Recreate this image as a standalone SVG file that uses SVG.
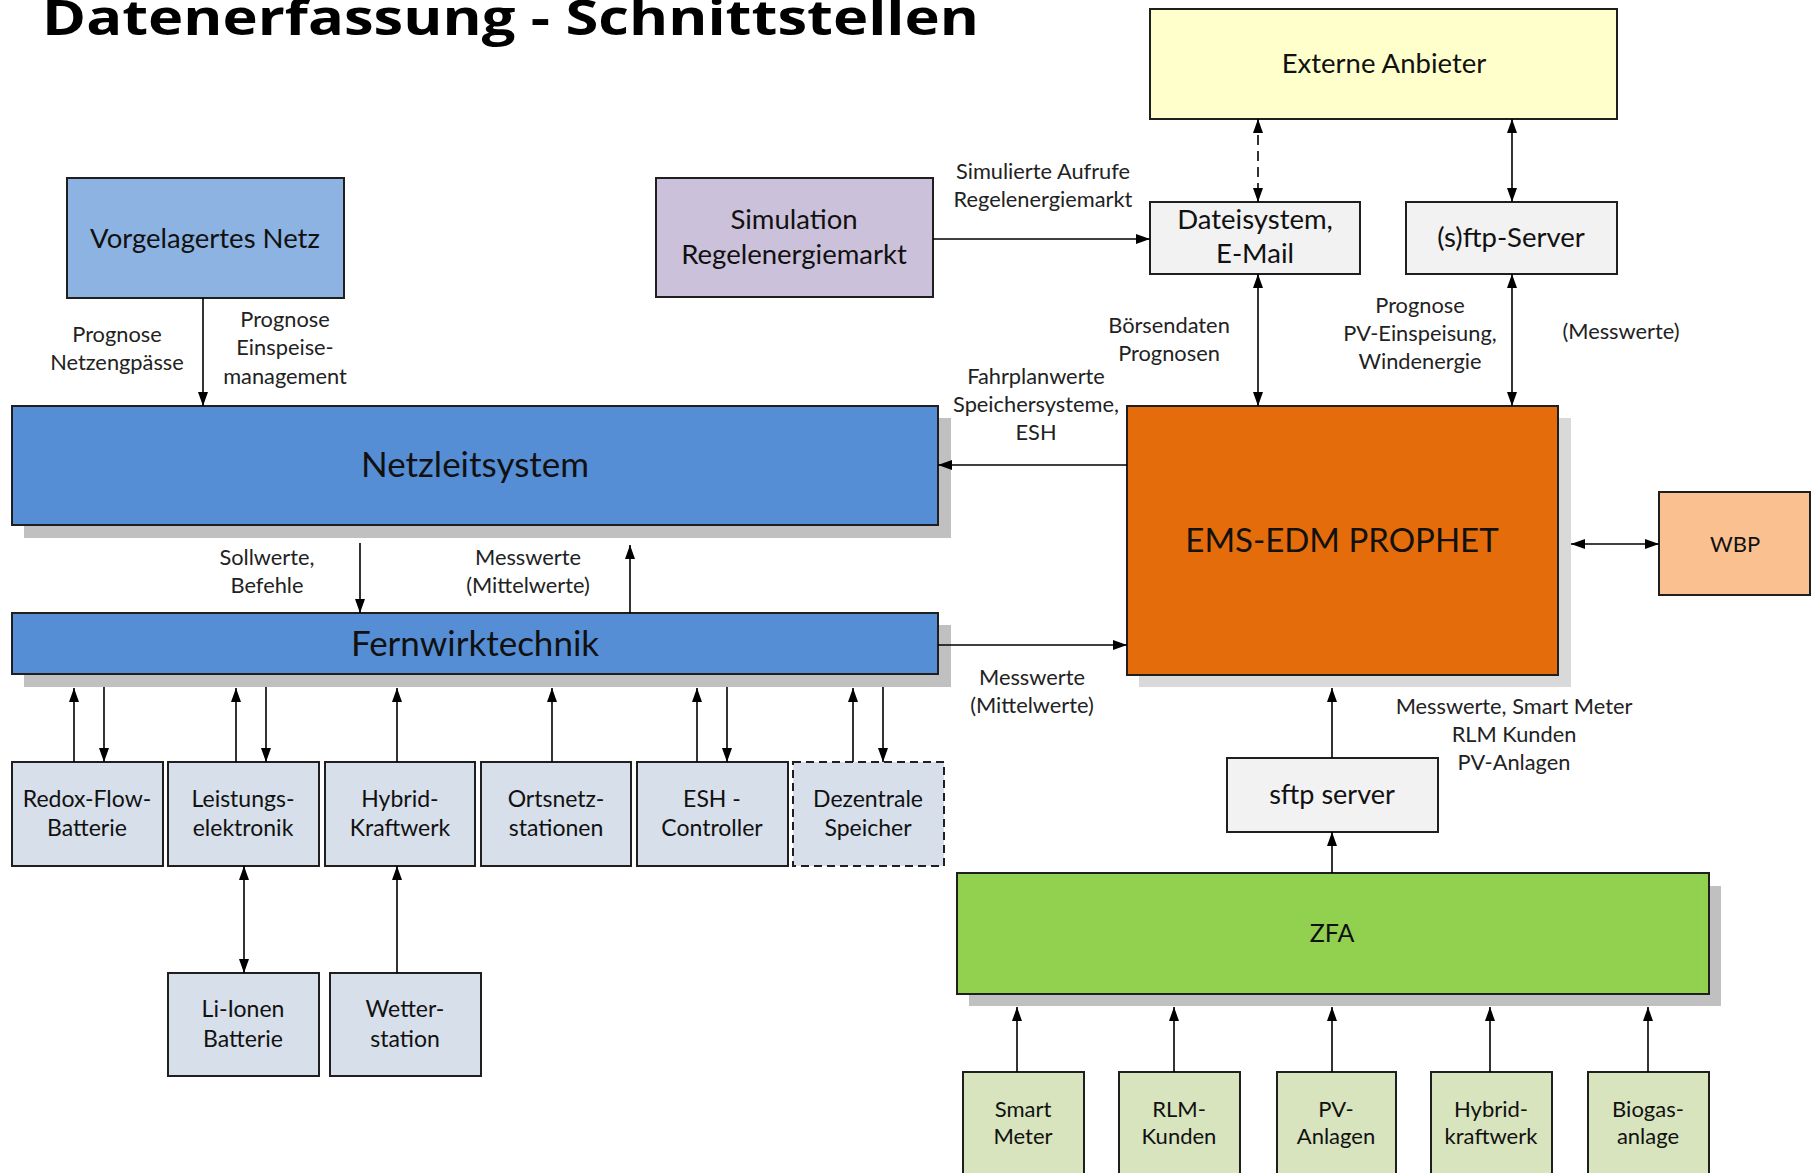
<svg xmlns="http://www.w3.org/2000/svg" width="1820" height="1173" viewBox="0 0 1820 1173">
<style>
.b{stroke:#1f1f1f;stroke-width:2}
.t{font-family:Lato,"Open Sans","Liberation Sans",sans-serif;fill:#111;text-anchor:middle}
.l{font-family:Lato,"Open Sans","Liberation Sans",sans-serif;fill:#222;text-anchor:middle;font-size:21.8px}
.c{stroke:#000;stroke-width:1.6;fill:none}
.sh{fill:#c0c0c0}
</style>
<defs>
<marker id="ah" viewBox="0 0 14 10" refX="14" refY="5" markerWidth="14" markerHeight="10" markerUnits="userSpaceOnUse" orient="auto-start-reverse"><path d="M0,0 L14,5 L0,10 z" fill="#000"/></marker>
</defs>
<rect width="1820" height="1173" fill="#fff"/>
<text x="42" y="35" font-family="'Open Sans','Liberation Sans',sans-serif" font-weight="bold" font-size="49" textLength="937" lengthAdjust="spacingAndGlyphs" fill="#000">Datenerfassung - Schnittstellen</text>

<g id="externe"><rect class="b" x="1150" y="9" width="467" height="110" fill="#FFFFCC"/><text class="t" x="1384" y="73" font-size="27.5">Externe Anbieter</text></g>
<g id="dateisystem"><rect class="b" x="1150" y="202" width="210" height="72" fill="#F2F2F2"/><text class="t" x="1255" y="229" font-size="27.5">Dateisystem,</text><text class="t" x="1255" y="263" font-size="27.5">E-Mail</text></g>
<g id="ftp"><rect class="b" x="1406" y="202" width="211" height="72" fill="#F2F2F2"/><text class="t" x="1511" y="247" font-size="27.5">(s)ftp-Server</text></g>
<g id="vorgelagert"><rect class="b" x="67" y="178" width="277" height="120" fill="#8DB3E2"/><text class="t" x="205" y="248" font-size="27.5">Vorgelagertes Netz</text></g>
<g id="simulation"><rect class="b" x="656" y="178" width="277" height="119" fill="#CCC1DA"/><text class="t" x="794" y="229" font-size="27.5">Simulation</text><text class="t" x="794" y="264" font-size="27.5">Regelenergiemarkt</text></g>
<g id="netzleitsystem"><rect class="sh" x="24" y="418" width="927" height="120"/><rect class="b" x="12" y="406" width="926" height="119" fill="#558ED5"/><text class="t" x="475" y="477" font-size="35">Netzleitsystem</text></g>
<g id="fernwirktechnik"><rect class="sh" x="24" y="625" width="927" height="62"/><rect class="b" x="12" y="613" width="926" height="61" fill="#558ED5"/><text class="t" x="475" y="656" font-size="35">Fernwirktechnik</text></g>
<g id="ems"><rect x="1139" y="418" width="432" height="269" fill="#D9D9D9"/><rect class="b" x="1127" y="406" width="431" height="269" fill="#E46C0A"/><text class="t" x="1342" y="552" font-size="33">EMS-EDM PROPHET</text></g>
<g id="wbp"><rect class="b" x="1659" y="492" width="151" height="103" fill="#FAC090"/><text class="t" x="1735" y="552" font-size="22">WBP</text></g>

<g id="redox"><rect class="b" x="12" y="762" width="151" height="104" fill="#D6DFEA"/><text class="t" x="87" y="807" font-size="23">Redox-Flow-</text><text class="t" x="87" y="836" font-size="23">Batterie</text></g>
<g id="leistung"><rect class="b" x="168" y="762" width="151" height="104" fill="#D6DFEA"/><text class="t" x="243" y="807" font-size="23">Leistungs-</text><text class="t" x="243" y="836" font-size="23">elektronik</text></g>
<g id="hybrid"><rect class="b" x="325" y="762" width="150" height="104" fill="#D6DFEA"/><text class="t" x="400" y="807" font-size="23">Hybrid-</text><text class="t" x="400" y="836" font-size="23">Kraftwerk</text></g>
<g id="ortsnetz"><rect class="b" x="481" y="762" width="150" height="104" fill="#D6DFEA"/><text class="t" x="556" y="807" font-size="23">Ortsnetz-</text><text class="t" x="556" y="836" font-size="23">stationen</text></g>
<g id="esh"><rect class="b" x="637" y="762" width="151" height="104" fill="#D6DFEA"/><text class="t" x="712" y="807" font-size="23">ESH -</text><text class="t" x="712" y="836" font-size="23">Controller</text></g>
<g id="dezentral"><rect class="b" x="793" y="762" width="151" height="104" fill="#D6DFEA" stroke-dasharray="8,5"/><text class="t" x="868" y="807" font-size="23">Dezentrale</text><text class="t" x="868" y="836" font-size="23">Speicher</text></g>
<g id="liionen"><rect class="b" x="168" y="973" width="151" height="103" fill="#D6DFEA"/><text class="t" x="243" y="1017" font-size="23">Li-Ionen</text><text class="t" x="243" y="1047" font-size="23">Batterie</text></g>
<g id="wetter"><rect class="b" x="330" y="973" width="151" height="103" fill="#D6DFEA"/><text class="t" x="405" y="1017" font-size="23">Wetter-</text><text class="t" x="405" y="1047" font-size="23">station</text></g>

<g id="sftpserver"><rect class="b" x="1227" y="758" width="211" height="74" fill="#F2F2F2"/><text class="t" x="1332" y="804" font-size="27">sftp server</text></g>
<g id="zfa"><rect class="sh" x="969" y="886" width="752" height="120"/><rect class="b" x="957" y="873" width="752" height="121" fill="#92D050"/><text class="t" x="1332" y="942" font-size="25">ZFA</text></g>
<g id="smartmeter"><rect class="b" x="963" y="1072" width="121" height="120" fill="#D7E4BD"/><text class="t" x="1023" y="1117" font-size="22">Smart</text><text class="t" x="1023" y="1144" font-size="22">Meter</text></g>
<g id="rlm"><rect class="b" x="1119" y="1072" width="121" height="120" fill="#D7E4BD"/><text class="t" x="1179" y="1117" font-size="22">RLM-</text><text class="t" x="1179" y="1144" font-size="22">Kunden</text></g>
<g id="pv"><rect class="b" x="1277" y="1072" width="119" height="120" fill="#D7E4BD"/><text class="t" x="1336" y="1117" font-size="22">PV-</text><text class="t" x="1336" y="1144" font-size="22">Anlagen</text></g>
<g id="hybridkw"><rect class="b" x="1431" y="1072" width="121" height="120" fill="#D7E4BD"/><text class="t" x="1491" y="1117" font-size="22">Hybrid-</text><text class="t" x="1491" y="1144" font-size="22">kraftwerk</text></g>
<g id="biogas"><rect class="b" x="1588" y="1072" width="121" height="120" fill="#D7E4BD"/><text class="t" x="1648" y="1117" font-size="22">Biogas-</text><text class="t" x="1648" y="1144" font-size="22">anlage</text></g>

<g id="connectors">
<path class="c" d="M203,298 V406" marker-end="url(#ah)"/>
<path class="c" d="M933,239 H1150" marker-end="url(#ah)"/>
<path class="c" d="M1258,119 V202" stroke-dasharray="10,6" marker-start="url(#ah)" marker-end="url(#ah)"/>
<path class="c" d="M1512,119 V202" marker-start="url(#ah)" marker-end="url(#ah)"/>
<path class="c" d="M1258,274 V406" marker-start="url(#ah)" marker-end="url(#ah)"/>
<path class="c" d="M1512,274 V406" marker-start="url(#ah)" marker-end="url(#ah)"/>
<path class="c" d="M1127,465 H938" marker-end="url(#ah)"/>
<path class="c" d="M938,645 H1127" marker-end="url(#ah)"/>
<path class="c" d="M1571,544 H1659" marker-start="url(#ah)" marker-end="url(#ah)"/>
<path class="c" d="M360,543 V613" marker-end="url(#ah)"/>
<path class="c" d="M630,613 V545" marker-end="url(#ah)"/>
<path class="c" d="M74,762 V688" marker-end="url(#ah)"/>
<path class="c" d="M104,687 V762" marker-end="url(#ah)"/>
<path class="c" d="M236,762 V688" marker-end="url(#ah)"/>
<path class="c" d="M266,687 V762" marker-end="url(#ah)"/>
<path class="c" d="M397,762 V688" marker-end="url(#ah)"/>
<path class="c" d="M552,762 V688" marker-end="url(#ah)"/>
<path class="c" d="M697,762 V688" marker-end="url(#ah)"/>
<path class="c" d="M727,687 V762" marker-end="url(#ah)"/>
<path class="c" d="M853,762 V688" marker-end="url(#ah)"/>
<path class="c" d="M883,687 V762" marker-end="url(#ah)"/>
<path class="c" d="M244,866 V973" marker-start="url(#ah)" marker-end="url(#ah)"/>
<path class="c" d="M397,973 V866" marker-end="url(#ah)"/>
<path class="c" d="M1332,758 V688" marker-end="url(#ah)"/>
<path class="c" d="M1332,873 V832" marker-end="url(#ah)"/>
<path class="c" d="M1017,1072 V1007" marker-end="url(#ah)"/>
<path class="c" d="M1174,1072 V1007" marker-end="url(#ah)"/>
<path class="c" d="M1332,1072 V1007" marker-end="url(#ah)"/>
<path class="c" d="M1490,1072 V1007" marker-end="url(#ah)"/>
<path class="c" d="M1648,1072 V1007" marker-end="url(#ah)"/>
<text class="l" x="1043" y="179">Simulierte Aufrufe</text><text class="l" x="1043" y="207">Regelenergiemarkt</text>
<text class="l" x="1169" y="333">Börsendaten</text><text class="l" x="1169" y="361">Prognosen</text>
<text class="l" x="1420" y="313">Prognose</text><text class="l" x="1420" y="341">PV-Einspeisung,</text><text class="l" x="1420" y="369">Windenergie</text>
<text class="l" x="1621" y="339">(Messwerte)</text>
<text class="l" x="1036" y="384">Fahrplanwerte</text><text class="l" x="1036" y="412">Speichersysteme,</text><text class="l" x="1036" y="440">ESH</text>
<text class="l" x="1032" y="685">Messwerte</text><text class="l" x="1032" y="713">(Mittelwerte)</text>
<text class="l" x="117" y="342">Prognose</text><text class="l" x="117" y="370">Netzengpässe</text>
<text class="l" x="285" y="327">Prognose</text><text class="l" x="285" y="355">Einspeise-</text><text class="l" x="285" y="384">management</text>
<text class="l" x="267" y="565">Sollwerte,</text><text class="l" x="267" y="593">Befehle</text>
<text class="l" x="528" y="565">Messwerte</text><text class="l" x="528" y="593">(Mittelwerte)</text>
<text class="l" x="1514" y="714">Messwerte, Smart Meter</text><text class="l" x="1514" y="742">RLM Kunden</text><text class="l" x="1514" y="770">PV-Anlagen</text>
</g>
</svg>
